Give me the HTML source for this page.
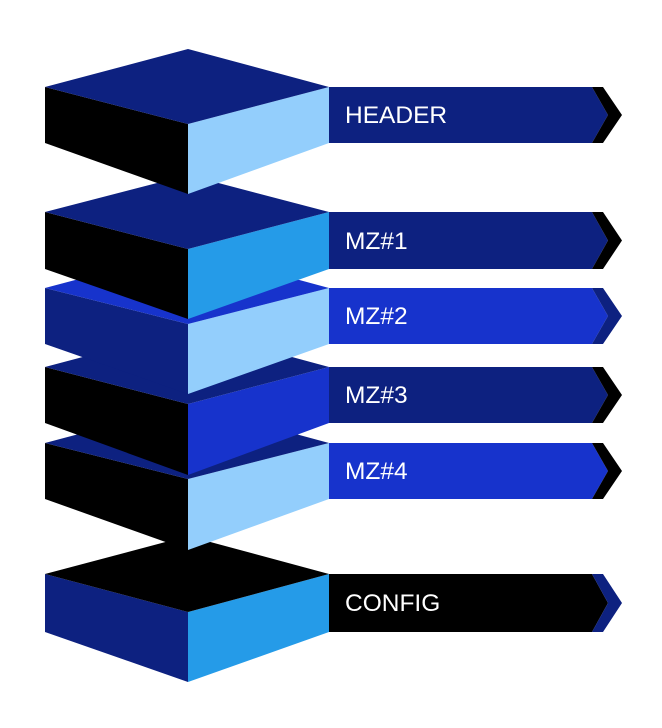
<!DOCTYPE html>
<html><head><meta charset="utf-8"><style>html,body{margin:0;padding:0;background:#fff}svg{display:block}</style></head>
<body>
<svg width="662" height="728" viewBox="0 0 662 728" xmlns="http://www.w3.org/2000/svg" font-family="Liberation Sans, sans-serif">
<g>
<polygon points="45,574 188,612 188,682 45,632" fill="#0d2180"/>
<polygon points="188,612 329,574 329,632 188,682" fill="#259be8"/>
<polygon points="45,574 188,536 329,574 188,612" fill="#000"/>
<polygon points="45,443 188,479 188,550 45,499" fill="#000"/>
<polygon points="188,479 329,443 329,499 188,550" fill="#93cefc"/>
<polygon points="45,443 188,405 329,443 188,479" fill="#0d2180"/>
<polygon points="45,367 188,404 188,475 45,423" fill="#000"/>
<polygon points="188,404 329,367 329,423 188,475" fill="#1733cc"/>
<polygon points="45,367 188,329 329,367 188,404" fill="#0d2180"/>
<polygon points="45,288 188,324 188,394 45,344" fill="#0d2180"/>
<polygon points="188,324 329,288 329,344 188,394" fill="#93cefc"/>
<polygon points="45,288 188,250 329,288 188,324" fill="#1733cc"/>
<polygon points="45,212 188,249 188,319 45,269" fill="#000"/>
<polygon points="188,249 329,212 329,269 188,319" fill="#259be8"/>
<polygon points="45,212 188,175 329,212 188,249" fill="#0d2180"/>
<polygon points="45,87 188,124 188,194 45,143" fill="#000"/>
<polygon points="188,124 329,87 329,143 188,194" fill="#93cefc"/>
<polygon points="45,87 188,49 329,87 188,124" fill="#0d2180"/>
</g>
<g font-size="24.5" fill="#fff">
<polygon points="329,87 592,87 608,115 592,143 329,143" fill="#0d2180"/>
<polygon points="592,87 603,87 622,115 603,143 592,143 608,115" fill="#000"/>
<text x="345" y="123" fill="#fff">HEADER</text>

<polygon points="329,212 592,212 608,240.5 592,269 329,269" fill="#0d2180"/>
<polygon points="592,212 603,212 622,240.5 603,269 592,269 608,240.5" fill="#000"/>
<text x="345" y="249" fill="#fff">MZ#1</text>

<polygon points="329,288 592,288 608,316 592,344 329,344" fill="#1733cc"/>
<polygon points="592,288 603,288 622,316 603,344 592,344 608,316" fill="#0d2180"/>
<text x="345" y="324" fill="#fff">MZ#2</text>

<polygon points="329,367 592,367 608,395 592,423 329,423" fill="#0d2180"/>
<polygon points="592,367 603,367 622,395 603,423 592,423 608,395" fill="#000"/>
<text x="345" y="403" fill="#fff">MZ#3</text>

<polygon points="329,443 592,443 608,471 592,499 329,499" fill="#1733cc"/>
<polygon points="592,443 603,443 622,471 603,499 592,499 608,471" fill="#000"/>
<text x="345" y="479" fill="#fff">MZ#4</text>

<polygon points="329,574 592,574 608,603 592,632 329,632" fill="#000"/>
<polygon points="592,574 603,574 622,603 603,632 592,632 608,603" fill="#0d2180"/>
<text x="345" y="611" fill="#fff">CONFIG</text>
</g>
</svg>
</body></html>
